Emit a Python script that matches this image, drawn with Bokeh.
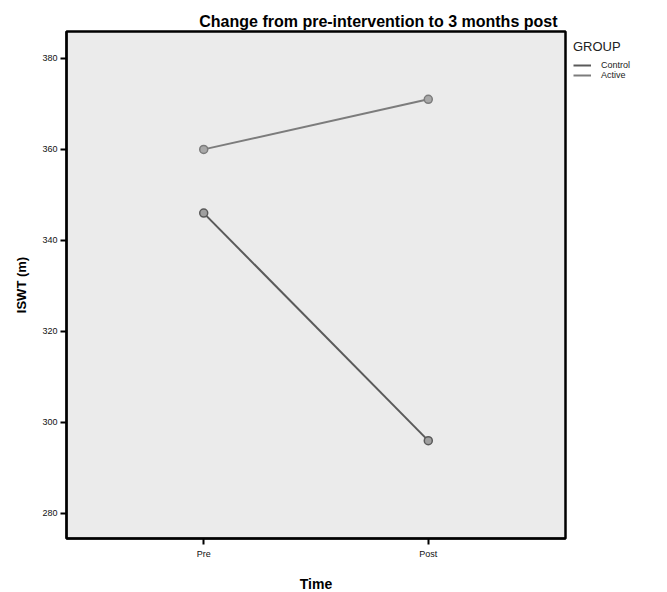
from bokeh.plotting import figure
from bokeh.models import Range1d, Legend, LegendItem, FixedTicker
from bokeh.embed import file_html
from bokeh.resources import INLINE

categories = ["Pre", "Post"]
control = [346, 296]
active = [360, 371]
y_ticks = [280, 300, 320, 340, 360, 380]

xs = list(range(len(categories)))

p = figure(width=651, height=576, output_backend="svg", toolbar_location=None,
           x_range=Range1d(-0.611, 1.611), y_range=Range1d(274.5, 385.9),
           frame_width=499, frame_height=507,
           min_border_left=66, min_border_top=31, min_border_bottom=10, min_border_right=10,
           title="Change from pre-intervention to 3 months post")

p.title.text_font = "Liberation Sans"
p.title.text_font_size = "16px"
p.title.text_font_style = "bold"
p.title.text_color = "black"
p.title.align = "right"
p.title.offset = 8
p.title.standoff = 3

p.background_fill_color = "#ebebeb"
p.border_fill_color = "white"
p.outline_line_color = "black"
p.outline_line_width = 2.5
p.xgrid.visible = False
p.ygrid.visible = False

for ax in (p.xaxis[0], p.yaxis[0]):
    ax.axis_line_color = "black"
    ax.axis_line_width = 2
    ax.major_tick_line_color = "black"
    ax.major_tick_line_width = 2
    ax.major_tick_out = 6
    ax.major_tick_in = 0
    ax.minor_tick_line_color = None
    ax.major_label_text_font = "Liberation Sans"
    ax.major_label_text_font_size = "9px"
    ax.major_label_text_color = "#111111"
    ax.axis_label_text_font = "Liberation Sans"
    ax.axis_label_text_font_style = "bold"
    ax.axis_label_text_color = "black"

p.xaxis.ticker = FixedTicker(ticks=xs)
p.xaxis.major_label_overrides = {i: c for i, c in enumerate(categories)}
p.xaxis.axis_label = "Time"
p.xaxis.axis_label_text_font_size = "14px"
p.xaxis.axis_label_standoff = 14
p.xaxis.major_label_standoff = 4

p.yaxis.ticker = FixedTicker(ticks=y_ticks)
p.yaxis.axis_label = "ISWT (m)"
p.yaxis.axis_label_text_font_size = "13px"
p.yaxis.axis_label_standoff = 10
p.yaxis.major_label_standoff = 3

lc = p.line(xs, control, line_color="#5a5a5a", line_width=2)
cc = p.scatter(xs, control, size=8, fill_color="#a0a0a0", line_color="#5a5a5a", line_width=1.5)
la = p.line(xs, active, line_color="#7c7c7c", line_width=2)
ca = p.scatter(xs, active, size=8, fill_color="#a8a8a8", line_color="#7c7c7c", line_width=1.5)

legend = Legend(items=[LegendItem(label="Control", renderers=[lc]),
                       LegendItem(label="Active", renderers=[la])],
                title="GROUP", location="top_left",
                border_line_color=None, background_fill_color=None,
                title_text_font="Liberation Sans", title_text_font_size="13px",
                title_text_font_style="normal", title_text_color="#222222",
                label_text_font="Liberation Sans", label_text_font_size="9px",
                label_text_color="#222222",
                glyph_width=18, glyph_height=10, label_height=10, spacing=0,
                padding=4, margin=0, title_standoff=6, label_standoff=10)
legend.margin = 8
p.add_layout(legend, "right")

open("out.html", "w").write(file_html(p, INLINE))
